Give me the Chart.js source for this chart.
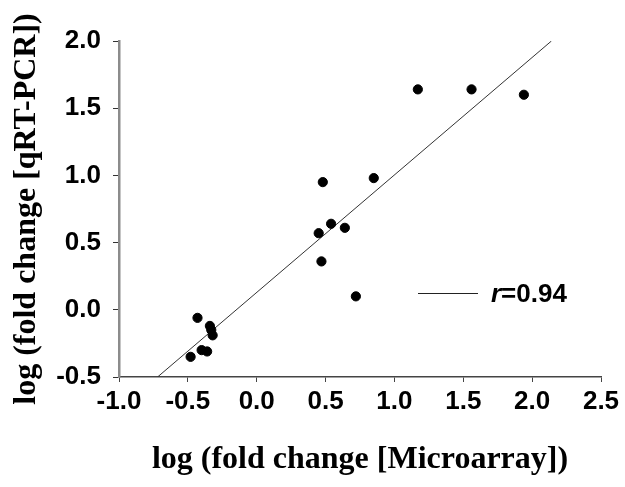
<!DOCTYPE html>
<html>
<head>
<meta charset="utf-8">
<script src="https://cdn.jsdelivr.net/npm/chart.js@4/dist/chart.umd.min.js"></script>
<style>
    body { margin: 0; background: #fff; }
</style>
</head>
<body>
<canvas id="corrChart" width="625" height="487"></canvas>
<script>
// Data
const microarray = [-0.48, -0.43, -0.34, -0.33, -0.32, -0.40, -0.36, 0.48, 0.85, 0.54, 0.45, 0.64, 0.47, 0.72, 1.17, 1.56, 1.94];
const qrtpcr = [-0.35, -0.06, -0.12, -0.15, -0.19, -0.30, -0.31, 0.95, 0.98, 0.64, 0.57, 0.61, 0.36, 0.10, 1.64, 1.64, 1.60];
const fitX = [-0.72, 2.14];
const fitY = [-0.5, 2.0];
const fitLabel = '=0.94';

const tickFont = { family: 'Liberation Sans, Arial, sans-serif', size: 26, weight: 'bold' };
const titleFont = { family: 'Liberation Serif, Times New Roman, serif', size: 32, weight: 'bold' };

// Legend with italic "r"
const rLegend = {
    id: 'rLegend',
    afterDraw(chart) {
        const ctx = chart.ctx;
        ctx.save();
        ctx.strokeStyle = '#222';
        ctx.lineWidth = 1;
        ctx.beginPath();
        ctx.moveTo(418, 293.5);
        ctx.lineTo(478, 293.5);
        ctx.stroke();
        ctx.fillStyle = '#000';
        ctx.textBaseline = 'middle';
        ctx.font = 'italic bold 26px Liberation Sans, Arial, sans-serif';
        ctx.fillText('r', 491, 295);
        const w = ctx.measureText('r').width;
        ctx.font = 'bold 26px Liberation Sans, Arial, sans-serif';
        ctx.fillText(fitLabel, 491 + w, 295);
        ctx.restore();
    }
};

const ctx = document.getElementById('corrChart').getContext('2d');
new Chart(ctx, {
    type: 'scatter',
    data: {
        datasets: [{
            label: 'samples',
            data: microarray.map((x, i) => ({ x: x, y: qrtpcr[i] })),
            backgroundColor: '#000',
            borderColor: '#000',
            pointRadius: 4.6,
            pointHoverRadius: 4.6
        }, {
            label: 'fit',
            data: fitX.map((x, i) => ({ x: x, y: fitY[i] })),
            showLine: true,
            borderColor: '#333',
            borderWidth: 1,
            pointRadius: 0,
            fill: false
        }]
    },
    options: {
        responsive: false,
        animation: false,
        layout: { padding: { top: 41, right: 24, left: 0, bottom: 0 } },
        plugins: {
            legend: { display: false },
            tooltip: { enabled: false }
        },
        scales: {
            x: {
                type: 'linear',
                min: -1.0,
                max: 2.5,
                afterFit(scale) { scale.height = 110; },
                border: { display: true, color: '#444', width: 1.5 },
                grid: { drawOnChartArea: false, drawTicks: true, tickLength: 5, color: '#444' },
                ticks: {
                    stepSize: 0.5,
                    padding: 4,
                    color: '#000',
                    font: tickFont,
                    callback: v => v.toFixed(1)
                },
                title: {
                    display: true,
                    text: 'log (fold change [Microarray])',
                    color: '#000',
                    font: titleFont,
                    padding: { top: 0, bottom: 8 }
                }
            },
            y: {
                type: 'linear',
                min: -0.5,
                max: 2.0,
                afterFit(scale) { scale.width = 119; },
                border: { display: true, color: '#8c8c8c', width: 2.5 },
                grid: { drawOnChartArea: false, drawTicks: true, tickLength: 6, color: '#333' },
                ticks: {
                    stepSize: 0.5,
                    padding: 12,
                    color: '#000',
                    font: tickFont,
                    callback: v => v.toFixed(1)
                },
                title: {
                    display: true,
                    text: 'log (fold change [qRT-PCR])',
                    color: '#000',
                    font: titleFont,
                    padding: { top: 8, bottom: 0 }
                }
            }
        }
    },
    plugins: [rLegend]
});
</script>
</body>
</html>
